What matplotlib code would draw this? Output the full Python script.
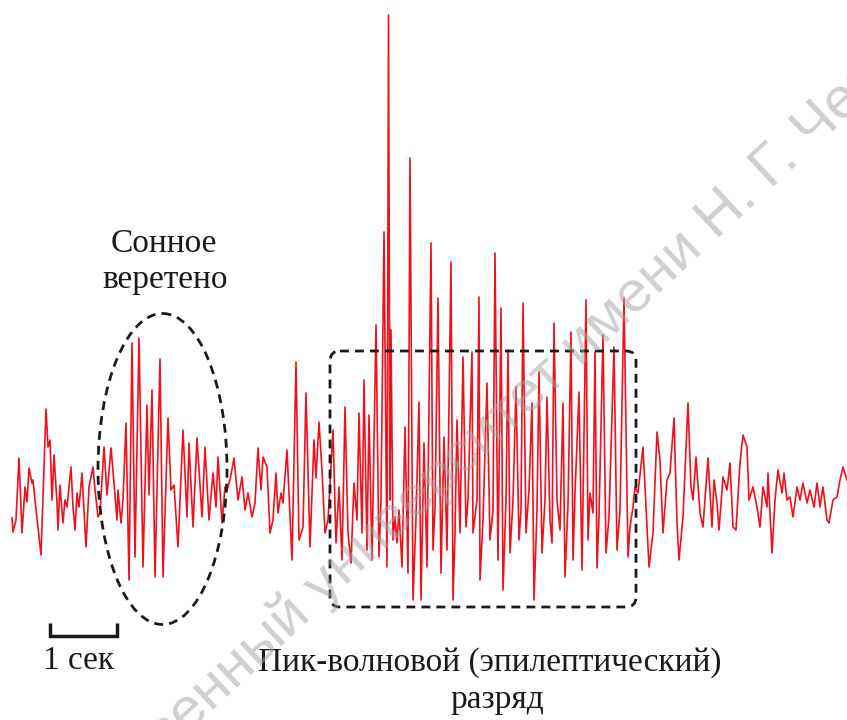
import matplotlib
matplotlib.use("Agg")
import matplotlib.pyplot as plt
from matplotlib.patches import Ellipse, FancyBboxPatch

# Трасса ЭЭГ: (время, амплитуда) в пикселях исходного рисунка, по участкам
fon_t = [12, 13, 16, 19, 22, 25, 27, 29, 32, 33, 35, 41, 46, 48, 50, 52, 54, 57, 58, 60,
         63, 65, 67, 71, 73, 75, 77, 79, 82, 83, 86, 89, 93, 95, 98]
fon_v = [518, 532, 520, 458, 533, 487, 502, 468, 483, 480, 500, 555, 409, 447, 440, 500, 455, 503, 530, 485,
         523, 500, 507, 467, 507, 530, 493, 507, 473, 493, 547, 487, 467, 490, 517]

vereteno_t = [100, 104, 107, 111, 114, 117, 118, 121, 123, 126, 129, 132, 135, 139, 143, 147, 149, 152, 155, 160,
              163, 168, 171, 174, 178, 183, 187, 189, 193, 197, 202, 205, 209, 213, 216, 218, 222, 225, 227]
vereteno_v = [513, 447, 495, 448, 483, 520, 490, 523, 500, 423, 580, 343, 557, 338, 567, 405, 495, 390, 577, 359,
              577, 418, 490, 485, 547, 430, 517, 443, 527, 438, 517, 447, 520, 473, 507, 457, 523, 487, 490]

mezhdu_t = [230, 234, 238, 242, 245, 248, 252, 255, 258, 261, 263, 267, 270, 273, 276, 278, 281, 283, 287, 292,
            296, 299, 303, 306, 310, 314, 316, 319, 322, 325, 328]
mezhdu_v = [480, 458, 500, 477, 510, 493, 517, 503, 448, 490, 457, 467, 533, 520, 473, 513, 493, 503, 450, 560,
            362, 540, 527, 393, 547, 440, 478, 422, 470, 533, 520]

razryad_t = [333, 336, 339, 342, 345, 348, 351, 354, 357, 359, 362, 364, 367, 369, 372, 376, 379, 381, 384, 387,
             388.5, 390, 391, 393, 395, 397, 399, 402, 405, 408, 410, 413, 416, 419, 421, 424, 427, 431, 433, 435,
             438, 441, 444, 447, 451, 453, 455, 457, 460, 463, 466, 468, 472, 473, 477, 479, 480, 483, 487, 490,
             493, 495, 498, 501, 503, 506, 508, 510, 513, 516, 519, 521, 523, 526, 529, 532, 534, 537, 539, 542,
             545, 547, 550, 552, 554, 557, 560, 563, 565, 568, 571, 573, 575, 579, 582, 586, 588, 590, 593, 595,
             597, 599, 603, 606, 609, 614, 617, 620, 624, 628, 630, 633, 635, 638]
razryad_v = [430, 543, 487, 560, 407, 533, 563, 483, 520, 413, 533, 380, 550, 415, 560, 325, 557, 500, 232, 567,
             15, 500, 330, 540, 517, 543, 510, 567, 427, 573, 158, 600, 517, 402, 600, 443, 567, 243, 550, 507,
             298, 573, 437, 550, 262, 600, 533, 420, 533, 357, 527, 500, 352, 533, 500, 297, 580, 520, 383, 540,
             510, 253, 560, 308, 590, 500, 350, 553, 500, 387, 540, 510, 303, 533, 490, 403, 600, 510, 372, 553,
             500, 397, 520, 543, 323, 500, 530, 403, 577, 505, 332, 560, 493, 392, 570, 300, 540, 493, 513, 352,
             568, 517, 335, 553, 517, 347, 550, 510, 298, 557, 527, 507, 487, 493]

posle_t = [643, 646, 649, 653, 657, 660, 663, 667, 670, 674, 677, 679, 683, 688, 691, 693, 696, 700, 703, 708,
           712, 714, 717, 719, 723, 727, 730, 733, 736, 740, 743, 747, 749, 753, 757, 760, 763, 767, 768, 772,
           775, 778, 782, 784, 787, 790, 793, 797, 800, 803, 807, 810, 814, 817, 820, 823, 827, 829, 833, 837,
           840, 843, 847]
posle_v = [447, 507, 567, 533, 432, 460, 533, 480, 473, 418, 523, 560, 517, 403, 487, 500, 457, 513, 527, 458,
           527, 480, 503, 530, 477, 490, 463, 527, 530, 463, 435, 447, 500, 487, 507, 527, 487, 507, 473, 553,
           500, 470, 493, 473, 500, 497, 517, 487, 500, 483, 503, 490, 507, 483, 507, 487, 520, 523, 500, 497,
           480, 467, 480]

t = fon_t + vereteno_t + mezhdu_t + razryad_t + posle_t
v = fon_v + vereteno_v + mezhdu_v + razryad_v + posle_v

fig = plt.figure(figsize=(8.47, 7.2), dpi=100)
ax = fig.add_axes([0, 0, 1, 1])
ax.set_xlim(0, 847)
ax.set_ylim(720, 0)
ax.axis('off')

# водяной знак (в оригинале обрезан краями)
wm = dict(fontsize=42, color='#a0a0a0', alpha=0.5, rotation=43,
          rotation_mode='anchor', family='Liberation Sans', va='baseline', zorder=5)
ax.text(324, 606, 'Саратовский государственный ', ha='right', **wm)
ax.text(324, 606, 'университет имени Н. Г. Чернышевского', ha='left', **wm)

ax.plot(t, v, color='#f2101c', lw=1.2, zorder=2)

# овал вокруг сонного веретена
ax.add_patch(Ellipse((162.5, 469), 129, 311, fill=False, ls=(0, (3.2, 2.2)),
                     lw=2.0, color='#1a1a1a', zorder=3))
# рамка вокруг разряда
ax.add_patch(FancyBboxPatch((330, 351), 306, 256, boxstyle='round,pad=0,rounding_size=10',
                            fill=False, ls=(0, (3.2, 2.2)), lw=2.0, ec='#1a1a1a', zorder=3))

# масштаб 1 сек
ax.plot([50, 50, 117, 117], [623, 636, 636, 623], color='#1a1a1a', lw=2.5,
        solid_joinstyle='miter', solid_capstyle='butt')

serif = dict(family='Liberation Serif', fontsize=24, color='#1a1a1a', ha='center', va='center')
ax.text(79, 661, '1 сек', **serif)
ax.text(164, 244, 'Сонное', **serif)
ax.text(165, 280, 'веретено', **serif)
ax.text(490, 663, 'Пик-волновой (эпилептический)', **serif)
ax.text(497, 700, 'разряд', **serif)

fig.savefig('out.png', dpi=100)
